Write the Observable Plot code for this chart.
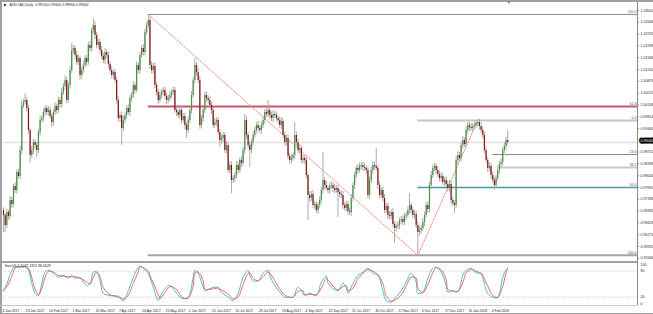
<!DOCTYPE html>
<html><head><meta charset="utf-8">
<script src="https://cdn.jsdelivr.net/npm/d3@7"></script>
<script src="https://cdn.jsdelivr.net/npm/@observablehq/plot@0.6"></script>
<style>
body{margin:0;background:#fff;}
#wrap{position:relative;width:653px;height:314px;overflow:hidden;background:#fff;}
#main,#osc{position:absolute;left:0;}
#main{top:0}
#osc{top:262px}
.bl{position:absolute;background:#a0a0a0}
.shift{position:absolute;left:507px;top:1px;width:0;height:0;border-left:2px solid transparent;border-right:2px solid transparent;border-top:3px solid #8a8a8a}
</style></head><body>
<div id="wrap"><div id="main"></div><div id="osc"></div>
<div class="bl" style="left:0;top:0;width:2px;height:314px"></div>
<div class="bl" style="left:0;top:0;width:653px;height:2px"></div>
<div class="bl" style="left:0;top:260.5px;width:637px;height:2px"></div>
<div class="bl" style="left:0;top:305px;width:637px;height:1px;background:#c8c8c8"></div>
<div class="bl" style="left:0;top:312.5px;width:653px;height:1.5px"></div>
<div class="shift"></div>
</div>
<script>
// ---- data ----
const symbolTitle = "AUDCAD,Daily  0.99100 0.99400 0.98960 0.99040";
const firstOpen = 0.9700;
const closes = [
0.9685,0.9655,0.9694,0.9682,0.9730,0.9718,0.9772,0.9760,0.9814,0.9802,
0.9880,1.0015,1.0024,1.0030,1.0006,0.9940,0.9865,0.9880,0.9904,0.9895,
0.9880,0.9934,0.9970,0.9976,0.9994,1.0006,0.9994,1.0000,0.9982,0.9964,
0.9994,1.0012,1.0000,1.0030,1.0018,1.0054,1.0072,1.0090,1.0030,1.0075,
1.0120,1.0180,1.0186,1.0165,1.0144,1.0156,1.0105,1.0120,1.0135,1.0156,
1.0144,1.0195,1.0186,1.0240,1.0255,1.0225,1.0195,1.0204,1.0180,1.0162,
1.0150,1.0174,1.0165,1.0138,1.0120,1.0105,1.0114,1.0090,1.0030,0.9976,
0.9985,0.9946,0.9970,0.9985,1.0006,0.9994,1.0036,1.0045,1.0075,1.0060,
1.0135,1.0120,1.0165,1.0186,1.0174,1.0234,1.0255,1.0270,1.0135,1.0120,
1.0132,1.0075,1.0054,1.0030,1.0045,1.0054,1.0060,1.0042,1.0030,1.0036,
1.0045,1.0054,1.0060,1.0000,0.9994,0.9985,1.0000,0.9970,0.9982,0.9955,
0.9940,0.9970,1.0000,1.0045,1.0090,1.0135,1.0114,1.0090,0.9955,0.9976,
1.0000,1.0045,1.0036,1.0030,1.0015,1.0000,0.9955,0.9964,0.9970,0.9934,
0.9910,0.9916,0.9925,0.9880,0.9895,0.9820,0.9835,0.9790,0.9796,0.9805,
0.9835,0.9820,0.9850,0.9841,0.9880,0.9970,0.9925,0.9895,0.9880,0.9904,
0.9925,0.9940,0.9955,0.9946,0.9940,0.9955,0.9970,0.9994,0.9988,1.0000,
0.9985,0.9976,0.9988,0.9985,0.9976,0.9970,0.9955,0.9967,0.9925,0.9904,
0.9916,0.9862,0.9850,0.9856,0.9865,0.9925,0.9904,0.9880,0.9886,0.9850,
0.9856,0.9850,0.9805,0.9745,0.9736,0.9748,0.9715,0.9718,0.9700,0.9715,
0.9730,0.9760,0.9790,0.9775,0.9766,0.9760,0.9772,0.9775,0.9766,0.9760,
0.9766,0.9754,0.9748,0.9745,0.9715,0.9706,0.9718,0.9697,0.9694,0.9736,
0.9775,0.9805,0.9826,0.9820,0.9832,0.9835,0.9829,0.9826,0.9820,0.9745,
0.9790,0.9820,0.9835,0.9832,0.9826,0.9775,0.9745,0.9760,0.9736,0.9700,
0.9712,0.9685,0.9682,0.9694,0.9658,0.9646,0.9652,0.9655,0.9670,0.9673,
0.9664,0.9682,0.9685,0.9700,0.9715,0.9700,0.9685,0.9688,0.9655,0.9634,
0.9640,0.9646,0.9664,0.9685,0.9715,0.9703,0.9775,0.9805,0.9826,0.9832,
0.9820,0.9808,0.9796,0.9802,0.9784,0.9790,0.9778,0.9766,0.9778,0.9730,
0.9721,0.9715,0.9850,0.9865,0.9856,0.9895,0.9910,0.9898,0.9940,0.9955,
0.9949,0.9946,0.9952,0.9955,0.9961,0.9964,0.9952,0.9940,0.9925,0.9880,
0.9850,0.9826,0.9832,0.9805,0.9790,0.9775,0.9796,0.9820,0.9838,0.9844,
0.9880,0.9892,0.9910,0.9904];
const wickUpPips = [
8,6,10,7,12,9,6,11,8,10, 12,15,9,21,8,10,7,12,9,8, 10,9,14,8,11,7,9,12,10,8,
9,11,7,10,8,12,9,14,10,8, 12,21,9,8,11,10,7,9,12,8, 10,9,12,8,21,11,9,10,8,12,
9,11,8,10,9,12,7,10,9,11, 8,10,12,9,8,11,10,9,12,8, 10,9,11,8,12,10,9,18,10,12,
9,11,8,10,12,9,8,11,10,9, 12,8,10,9,11,8,10,12,9,10, 8,11,9,12,10,21,9,11,12,8,
10,9,12,8,11,10,9,12,8,10, 9,11,10,8,12,9,10,11,8,9, 12,10,8,11,9,18,10,8,12,9,
11,10,9,12,8,10,11,9,12,30, 9,10,12,8,11,9,10,12,8,9, 11,10,9,12,8,39,10,9,11,8,
12,9,10,8,11,9,12,10,8,9, 11,10,84,9,12,8,10,11,9,12, 8,10,9,11,12,8,10,9,11,12,
9,10,8,12,11,9,10,12,8,10, 11,9,12,10,54,9,11,8,10,12, 9,10,11,8,12,9,10,11,8,9,
12,10,9,11,36,8,10,12,9,10, 11,9,12,10,8,11,9,12,10,8, 9,11,10,12,8,9,11,10,12,9,
10,8,12,11,9,10,12,8,11,9, 10,12,9,11,8,9,10,12,9,11, 10,9,12,8,11,10,9,12,10,11,
9,12,10,30];
const wickDownPips = [
51,21,9,11,8,12,10,9,11,8, 10,12,9,8,11,10,24,9,12,10, 21,9,11,8,10,12,9,11,8,15,
10,9,12,8,11,10,9,12,10,8, 11,9,10,12,8,9,15,11,10,9, 12,8,10,11,9,12,10,8,11,9,
10,12,9,11,8,10,12,9,11,10, 12,51,9,10,11,8,12,10,9,11, 8,10,12,9,11,10,8,9,12,10,
11,9,10,12,8,11,10,9,12,10, 9,11,10,8,12,9,11,10,8,12, 24,10,9,11,8,10,12,9,11,10,
12,8,10,11,9,12,10,8,11,9, 21,10,12,9,11,8,10,39,9,12, 10,11,9,12,8,10,11,9,51,10,
12,9,11,10,8,12,9,11,10,9, 11,10,12,8,9,11,10,12,9,10, 12,9,11,10,8,12,10,9,11,10,
9,11,10,75,12,9,10,11,8,12, 10,9,11,12,8,10,11,9,12,10, 9,75,11,10,12,8,10,11,9,12,
10,12,9,11,8,10,12,9,11,10, 12,9,10,11,8,12,10,9,11,10, 9,12,10,11,8,45,10,9,12,11,
10,9,12,8,11,10,9,12,10,66, 11,10,9,12,8,11,10,12,9,10, 12,9,11,10,8,12,9,11,10,12,
9,24,10,11,12,8,10,9,11,10, 12,9,10,11,8,10,12,9,11,10, 9,12,10,11,8,15,10,9,12,11,
10,9,12,8];
const dateBars = [0,14,28,42,56,70,84,98,112,126,140,154,168,182,196,210,224,238,252,266,280,294];
const dateLabels = ["4 Jan 2017","23 Jan 2017","10 Feb 2017","1 Mar 2017","20 Mar 2017","7 Apr 2017","26 Apr 2017","15 May 2017","2 Jun 2017","21 Jun 2017","10 Jul 2017","28 Jul 2017","16 Aug 2017","4 Sep 2017","22 Sep 2017","11 Oct 2017","30 Oct 2017","17 Nov 2017","6 Dec 2017","27 Dec 2017","16 Jan 2018","4 Feb 2018"];
const priceTicks = [1.03000,1.02646,1.02292,1.01938,1.01584,1.01230,1.00876,1.00522,1.00168,0.99814,0.99460,0.98752,0.98398,0.98044,0.97690,0.97336,0.96982,0.96628,0.96274,0.95920,0.95566];
const fibPrice = [1.0288,1.0012,0.9970,0.9868,0.9829,0.9769,0.9566];
const fibLabel = ["100.0","61.8","0.0","23.6","38.2","50.0","100.0"];
const fibStartBar = [87,87,249,294,298,249,87];
const fibColor = ["#8c8c8c","#c9586e","#c6c6c6","#8a8a8a","#cacaca","#4c9aa6","#a4a4a4"];
const fibWidth = [1,2,2,1,2,1.4,2];
const trendFromBar = [87,249], trendFromPrice = [1.0288,0.9566];
const trendToBar = [249,285], trendToPrice = [0.9566,0.9970];
const stochBars = [0,2,5,7,10,13,15,17,19,21,23,25,27,30,33,36,39,41,43,46,50,52,54,56,58,60,64,69,72,75,78,81,82,84,87,88,90,93,94,97,100,103,106,108,111,114,115,117,120,121,124,129,130,135,138,141,144,147,148,150,153,156,159,160,163,166,169,172,174,177,180,181,184,188,191,194,195,198,201,204,206,207,210,213,216,219,222,225,228,230,233,234,239,242,245,248,249,252,255,258,260,263,266,267,270,273,276,278,281,282,285,287,288,291,294,297,300,302,303];
const stochK = [35,51,82,91,89,91,82,52,29,24, 52,78,82,75,66,70,64,70,64,64, 47,52,78,78,58,29,24,20,12,35, 66,89,91,87,75,66,43,12,20,40, 47,35,20,17,20,66,82,75,43,35, 40,43,35,20,12,29,66,82,70,58, 58,75,82,70,47,32,20,20,20,43, 29,24,29,24,55,69,53,40,35,52, 43,29,52,70,78,87,75,70,35,12, 9,12,35,55,75,55,29,32,63,87, 89,78,47,32,35,32,70,82,87,82, 75,75,66,29,20,20,66,84,87.1];
const stochD = [35,44,68,87,90,90,86,65,39,26, 40,66,80,78,70,69,67,67,67,64, 55,50,66,78,67,42,26,22,16,25, 52,79,90,88,80,70,53,26,17,31, 44,41,27,18,18,46,75,78,58,39, 38,41,39,27,16,21,49,75,76,64, 58,67,78,76,58,39,25,20,20,33, 35,26,27,26,41,63,60,46,37,44, 46,35,41,62,75,83,80,72,51,23, 11,11,25,46,66,64,41,30,49,76, 88,83,61,39,34,34,53,76,84,84, 78,75,70,46,24,20,46,76,86.7];
const stochLevels = [80,20];
const stochTitle = "Stoch(5,3,3) 87.1352 86.6629";

// ---- build ----
const xMax = 381;
const tickLen = 1.2;
const candles = closes.map((c,i)=>{
  const o = i===0 ? firstOpen : closes[i-1];
  return {i, open:o, close:c, high: Math.max(o,c)+wickUpPips[i]*1e-4, low: Math.min(o,c)-wickDownPips[i]*1e-4};
});
const last = closes[closes.length-1];
const fibs = fibPrice.map((p,k)=>({p, label:fibLabel[k], start:fibStartBar[k], color:fibColor[k], w:fibWidth[k]}));
const trend = [];
trendFromBar.forEach((b,k)=>{trend.push({i:b,p:trendFromPrice[k],g:k},{i:trendToBar[k],p:trendToPrice[k],g:k});});
const font = "Liberation Sans, Arial, sans-serif";
const txt = "#262626";

const main = Plot.plot({
  width:653, height:262, marginLeft:3, marginRight:16, marginTop:0, marginBottom:0,
  style:{background:"transparent", fontFamily:font, overflow:"visible"},
  x:{type:"linear", domain:[0,xMax], axis:null},
  y:{type:"linear", domain:[0.9544,1.0330], axis:null},
  marks:[
    Plot.ruleY([last], {stroke:"#e2e2e2", strokeWidth:1.5}),
    Plot.ruleY(fibs, {y:"p", x1:"start", x2:()=>xMax, stroke:"color", strokeWidth:"w"}),
    Plot.line(trend, {x:"i", y:"p", z:"g", stroke:"#f08a8a", strokeWidth:1, strokeDasharray:"1.5,1.5"}),
    Plot.ruleX(candles, {x:"i", y1:"low", y2:"high", stroke:"#acacac", strokeWidth:1}),
    Plot.ruleX(candles, {x:"i", y1:"open", y2:"close", stroke:d=>d.close>=d.open?"#449244":"#861212", strokeWidth:1.2}),
    Plot.text(fibs, {x:()=>xMax, y:"p", text:"label", textAnchor:"end", dx:-1, dy:-2.2, fontSize:3.6, fill:"#555"}),
    Plot.ruleX([xMax], {stroke:"#8a8a8a", strokeWidth:1}),
    Plot.ruleY(priceTicks, {y:d=>d, x1:()=>xMax, x2:()=>xMax+tickLen, stroke:"#8a8a8a", strokeWidth:1}),
    Plot.text(priceTicks, {x:()=>xMax, y:d=>d, text:d=>d.toFixed(5), textAnchor:"start", dx:3, fontSize:3.6, fill:txt}),
    Plot.text([last], {x:()=>xMax, y:d=>d, text:d=>d.toFixed(5), textAnchor:"start", dx:3, dy:-1.5, fontSize:3.6, fill:"#fff", stroke:"#000", strokeWidth:3.2, paintOrder:"stroke"}),
    Plot.text([symbolTitle], {frameAnchor:"top-left", dx:6, dy:4.4, lineAnchor:"middle", textAnchor:"start", fontSize:3.5, fill:txt}),
    Plot.dot([0], {frameAnchor:"top-left", dx:1.5, dy:4.4, symbol:"triangle", rotate:90, r:1.1, fill:"#222", stroke:null})
  ]
});
document.getElementById("main").appendChild(main);

const kPts = stochBars.map((b,k)=>({i:b, v:stochK[k]}));
const dPts = stochBars.map((b,k)=>({i:b, v:stochD[k]}));
const osc = Plot.plot({
  width:653, height:52, marginLeft:3, marginRight:16, marginTop:0, marginBottom:8.6,
  style:{background:"transparent", fontFamily:font, overflow:"visible"},
  x:{type:"linear", domain:[0,xMax], axis:null},
  y:{type:"linear", domain:[0,100], axis:null},
  marks:[
    Plot.ruleY(stochLevels, {stroke:"#b8b8b8", strokeWidth:0.8, strokeDasharray:"1,1.5"}),
    Plot.line(kPts, {x:"i", y:"v", stroke:"#45c4c4", strokeWidth:1, curve:"catmull-rom"}),
    Plot.line(dPts, {x:"i", y:"v", stroke:"#f05050", strokeWidth:1, strokeDasharray:"1,1", curve:"catmull-rom"}),
    Plot.ruleX([xMax], {stroke:"#8a8a8a", strokeWidth:1}),
    Plot.text(stochLevels, {x:()=>xMax, y:d=>d, text:d=>String(d), textAnchor:"start", dx:3, fontSize:3.6, fill:txt}),
    Plot.text([100], {x:()=>xMax, y:d=>d, text:d=>String(d), textAnchor:"start", dx:3, dy:2.3, fontSize:3.6, fill:txt}),
    Plot.text([0], {x:()=>xMax, y:d=>d, text:d=>String(d), textAnchor:"start", dx:3, dy:-2, fontSize:3.6, fill:txt}),
    Plot.text([stochTitle], {frameAnchor:"top-left", dx:1, dy:3, lineAnchor:"middle", textAnchor:"start", fontSize:3.5, fill:txt}),
    Plot.text(dateLabels, {x:(d,k)=>dateBars[k], y:()=>0, textAnchor:"start", dx:-1, dy:5, fontSize:3.4, fill:txt})
  ]
});
document.getElementById("osc").appendChild(osc);
</script>
</body></html>
